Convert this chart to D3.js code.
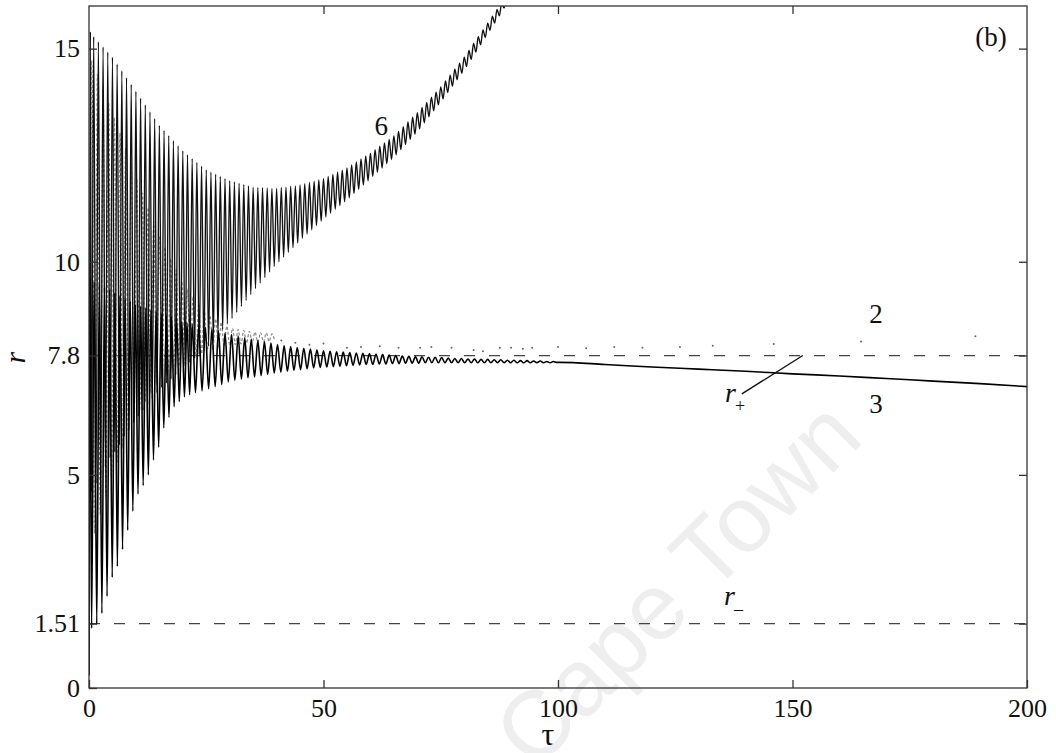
<!DOCTYPE html>
<html>
<head>
<meta charset="utf-8">
<script src="https://cdn.jsdelivr.net/npm/d3@7"></script>
<style>
  body { margin: 0; background: #fff; }
  svg text { font-family: "Liberation Serif", "DejaVu Serif", serif; fill: #111; }
</style>
</head>
<body>
<svg id="chart" width="1056" height="753"></svg>
<script>
// tick values and reference levels
const xTicks = [0, 50, 100, 150, 200];
const yTicks = [0, 1.51, 5, 7.8, 10, 15];
const yTickLabels = ["0", "1.51", "5", "7.8", "10", "15"];
const refLines = [7.8, 1.51];

// trajectory 6: extrema [tau, r]
const curve6 = [
  [0,0.3],[0.3,15.4],[0.5,4.6],[1,15.28],[1.5,4.8],[2,15.16],[2.5,5.0],[3,15.04],[3.5,5.2],[4,14.92],[4.5,5.4],[5,14.8],[5.5,5.54],[6,14.64],[6.5,5.7],[7,14.48],[7.5,5.9],[8,14.32],[8.5,6.06],[9,14.16],[9.5,6.22],[10,14.0],
  [10.5,6.37],[11,13.84],[11.5,6.51],[12,13.68],[12.5,6.65],[13,13.52],[13.5,6.79],[14,13.36],[14.5,6.93],[15,13.2],[15.5,7.05],[16,13.08],[16.5,7.15],[17,12.96],[17.5,7.25],[18,12.84],[18.5,7.35],[19,12.72],[19.5,7.45],[20,12.6],
  [20.5,7.55],[21,12.51],[21.5,7.64],[22,12.42],[22.5,7.73],[23,12.33],[23.5,7.82],[24,12.24],[24.5,7.91],[25,12.15],[25.5,8.02],[26,12.1],[26.5,8.15],[27,12.05],[27.5,8.28],[28,12.0],[28.5,8.41],[29,11.95],[29.5,8.54],[30,11.9],
  [30.5,8.67],[31,11.87],[31.5,8.81],[32,11.84],[32.5,8.95],[33,11.81],[33.5,9.09],[34,11.78],[34.5,9.23],[35,11.75],[35.5,9.37],[36,11.74],[36.5,9.5],[37,11.74],[37.5,9.63],[38,11.73],[38.5,9.76],[39,11.72],[39.5,9.89],[40,11.72],
  [40.5,10.0],[41,11.74],[41.5,10.11],[42,11.75],[42.5,10.22],[43,11.77],[43.5,10.33],[44,11.78],[44.5,10.44],[45,11.8],[45.5,10.55],[46,11.83],[46.5,10.65],[47,11.86],[47.5,10.75],[48,11.89],[48.5,10.85],[49,11.92],[49.5,10.95],[50,11.95],
  [50.5,11.05],[51,12.0],[51.5,11.14],[52,12.05],[52.5,11.23],[53,12.1],[53.5,11.32],[54,12.15],[54.5,11.41],[55,12.2],[55.5,11.5],[56,12.27],[56.5,11.6],[57,12.34],[57.5,11.7],[58,12.41],[58.5,11.8],[59,12.48],[59.5,11.9],[60,12.55],
  [60.5,12.0],[61,12.63],[61.5,12.1],[62,12.71],[62.5,12.2],[63,12.79],[63.5,12.3],[64,12.87],[64.5,12.4],[65,12.95],[65.5,12.51],[66,13.06],[66.5,12.63],[67,13.17],[67.5,12.75],[68,13.28],[68.5,12.87],[69,13.39],[69.5,12.99],[70,13.5],
  [70.5,13.12],[71,13.62],[71.5,13.26],[72,13.74],[72.5,13.4],[73,13.86],[73.5,13.54],[74,13.98],[74.5,13.68],[75,14.1],[75.5,13.82],[76,14.24],[76.5,13.97],[77,14.38],[77.5,14.12],[78,14.52],[78.5,14.27],[79,14.66],[79.5,14.42],[80,14.8],
  [80.5,14.58],[81,14.96],[81.5,14.75],[82,15.12],[82.5,14.92],[83,15.28],[83.5,15.09],[84,15.44],[84.5,15.26],[85,15.6],[85.5,15.43],[86,15.76],[86.5,15.6],[87,15.92],[87.5,15.77],[88,16.08],[88.5,15.95],[89,16.25]
];

// trajectory 3: extrema, then the smooth tail
const curve3 = [
  [0,0.3],[0.2,9.6],[0.55,1.4],[1.1,9.53],[1.65,1.5],[2.2,9.47],[2.75,1.75],[3.3,9.4],[3.85,2.15],[4.4,9.34],[4.95,2.6],[5.5,9.27],[6.05,2.85],[6.6,9.2],[7.15,3.25],[7.7,9.14],[8.25,3.7],[8.8,9.07],[9.35,4.15],[9.9,9.0],
  [10.45,4.55],[11.0,8.96],[11.55,4.75],[12.1,8.92],[12.65,5.0],[13.2,8.87],[13.75,5.35],[14.3,8.83],[14.85,5.65],[15.4,8.78],[15.95,6.1],[16.5,8.74],[17.05,6.35],[17.6,8.7],[18.15,6.6],[18.7,8.65],[19.25,6.72],[19.8,8.6],
  [20.35,6.83],[20.9,8.57],[21.45,6.88],[22.0,8.54],[22.7,6.93],[23.4,8.5],[24.1,6.97],[24.8,8.46],[25.5,7.02],[26.2,8.42],[26.9,7.07],[27.6,8.38],[28.3,7.12],[29.0,8.33],[29.7,7.18],[30.4,8.29],[31.1,7.22],[31.8,8.25],
  [32.5,7.25],[33.2,8.21],[33.9,7.28],[34.6,8.18],[35.3,7.3],[36.0,8.15],[36.7,7.33],[37.4,8.12],[38.1,7.36],[38.8,8.09],[39.5,7.39],[40.2,8.06],[40.9,7.41],[41.6,8.03],[42.3,7.43],[43.0,8.01],[43.7,7.45],[44.4,7.99],
  [45.1,7.47],[45.8,7.97],[46.5,7.49],[47.2,7.95],[47.9,7.51],[48.6,7.93],[49.3,7.52],[50.0,7.91],[50.7,7.53],[51.4,7.9],[52.1,7.54],[52.8,7.89],[53.5,7.55],[54.2,7.88],[54.9,7.56],[55.6,7.87],[56.3,7.57],[57.0,7.86],
  [57.7,7.58],[58.4,7.85],[59.1,7.59],[59.8,7.84],[60.5,7.59],[61.2,7.83],[61.9,7.6],[62.6,7.82],[63.3,7.6],[64.0,7.81],[64.7,7.61],[65.4,7.8],[66.1,7.61],[66.8,7.79],[67.5,7.62],[68.2,7.78],[68.9,7.62],[69.6,7.77],
  [70.3,7.62],[71.0,7.77],[71.7,7.63],[72.4,7.76],[73.1,7.63],[73.8,7.76],[74.5,7.63],[75.2,7.75],[75.9,7.63],[76.6,7.74],[77.3,7.63],[78.0,7.73],[78.7,7.63],[79.4,7.73],[80.1,7.63],[80.8,7.72],[81.5,7.63],[82.2,7.72],
  [82.9,7.63],[83.6,7.71],[84.3,7.63],[85.0,7.71],[85.7,7.63],[86.4,7.7],[87.1,7.63],[87.8,7.7],[88.5,7.63],[89.2,7.69],[89.9,7.63],[90.6,7.69],[91.3,7.63],[92.0,7.68],[92.7,7.63],[93.4,7.68],[94.1,7.63],[94.8,7.67],
  [95.5,7.63],[96.2,7.67],[96.9,7.63],[97.6,7.66],[98.3,7.63],[99.0,7.66],[99.7,7.64],
  [100.5,7.64],[110,7.59],[120,7.53],[130,7.48],[140,7.43],[150,7.37],[160,7.32],[170,7.26],[180,7.2],[190,7.14],[200,7.07]
];

// trajectory 2 (grey, dotted): early oscillation, then only scattered dots remain visible
const curve2 = [
  [0,3.0],[0.6,14.73],[1.2,3.63],[1.8,14.4],[2.4,4.06],[3.0,14.06],[3.6,4.5],[4.2,13.72],[4.8,4.93],[5.4,13.38],[6.0,5.28],[6.6,13.02],[7.2,5.62],[7.8,12.66],[8.4,5.95],[9.0,12.3],[9.6,6.29],[10.2,11.94],
  [10.8,6.53],[11.4,11.61],[12.0,6.72],[12.6,11.27],[13.2,6.91],[13.8,10.94],[14.4,7.1],[15.0,10.6],[15.6,7.25],[16.2,10.34],[16.8,7.34],[17.4,10.07],[18.0,7.44],[18.6,9.81],[19.2,7.54],[19.8,9.54],
  [20.4,7.62],[21.0,9.36],[21.6,7.7],[22.2,9.19],[22.8,7.77],[23.4,9.02],[24.0,7.84],[24.6,8.86],[25.2,7.91],[25.8,8.74],[26.4,7.94],[27.0,8.66],[27.6,7.98],[28.2,8.58],[28.8,8.01],[29.4,8.49],
  [30.0,8.05],[30.6,8.44],[31.2,8.06],[31.8,8.41],[32.4,8.07],[33.0,8.39],[33.6,8.09],[34.2,8.37],[34.8,8.1],[35.4,8.35],[36.0,8.11],[36.6,8.34],[37.2,8.12],[37.8,8.33],[38.4,8.13],[39.0,8.31],[39.6,8.14]
];
const curve2Dots = [
  [41,8.15],[44,8.1],[47,8.05],[50,8.08],[55,7.98],[58,8.0],[62,8.02],[66,7.98],[70.6,7.98],[73,8.0],[77.3,7.98],[82,7.93],[84,7.9],
  [87.6,7.98],[90,7.98],[92.5,7.96],[94.5,7.98],[100,8.0],[106,7.97],[112,8.0],[118,7.98],[126,8.0],[133,8.03],[146,8.07],[164.6,8.13],[189,8.25]
];

// text annotations in data units
const curveLabels = [
  { text: "6", tau: 62.3, r: 12.97 },
  { text: "2", tau: 167.8, r: 8.56 },
  { text: "3", tau: 167.8, r: 6.45 },
  { text: "(b)", tau: 192.3, r: 15.06 }
];
const rootLabels = [
  { sub: "+", tau: 135.6, r: 6.71 },
  { sub: "\u2013", tau: 135.4, r: 1.95 }
];
const leader = [[139.2, 6.9], [152.2, 7.8]];

const margin = { top: 6, right: 29, bottom: 65, left: 89 };
const width = 1056, height = 753;

const x = d3.scaleLinear().domain([0, 200]).range([margin.left, width - margin.right]);
const y = d3.scaleLinear().domain([0, 16]).range([height - margin.bottom, margin.top]);

const svg = d3.select("#chart");

svg.append("defs").append("clipPath").attr("id", "plotClip")
  .append("rect")
  .attr("x", x(0)).attr("y", y(16))
  .attr("width", x(200) - x(0)).attr("height", y(0) - y(16));

// faint watermark behind everything
svg.append("text")
  .attr("transform", "translate(700,606) rotate(-45)")
  .attr("text-anchor", "middle")
  .style("font-family", "'Liberation Sans', Arial, sans-serif")
  .style("font-size", "94px")
  .style("fill", "#eeeeee")
  .text("Cape Town");

const plot = svg.append("g").attr("clip-path", "url(#plotClip)");

// dashed r+ / r- levels
plot.selectAll("line.ref")
  .data(refLines)
  .enter()
  .append("line")
  .attr("class", "ref")
  .attr("x1", x(0)).attr("x2", x(200))
  .attr("y1", d => y(d)).attr("y2", d => y(d))
  .attr("stroke", "#444")
  .attr("stroke-width", 1.2)
  .attr("stroke-dasharray", "11,14");

const line = d3.line()
  .x(d => x(d[0]))
  .y(d => y(d[1]))
  .curve(d3.curveMonotoneX);

plot.append("path")
  .datum(curve2)
  .attr("d", line)
  .attr("fill", "none")
  .attr("stroke", "#8a8a8a")
  .attr("stroke-width", 1.2)
  .attr("stroke-dasharray", "3,2");

plot.selectAll("circle.dot2")
  .data(curve2Dots)
  .enter()
  .append("circle")
  .attr("class", "dot2")
  .attr("cx", d => x(d[0]))
  .attr("cy", d => y(d[1]))
  .attr("r", 1)
  .attr("fill", "#666");

plot.append("path")
  .datum(curve6)
  .attr("d", line)
  .attr("fill", "none")
  .attr("stroke", "#111")
  .attr("stroke-width", 1.35);

plot.append("path")
  .datum(curve3)
  .attr("d", line)
  .attr("fill", "none")
  .attr("stroke", "#000")
  .attr("stroke-width", 1.6);

// frame
svg.append("rect")
  .attr("x", x(0)).attr("y", y(16))
  .attr("width", x(200) - x(0)).attr("height", y(0) - y(16))
  .attr("fill", "none")
  .attr("stroke", "#333")
  .attr("stroke-width", 1.3);

//axes with inward ticks
const xAxis = g => {
  g.attr("transform", `translate(0, ${y(0)})`)
    .call(d3.axisBottom(x).tickValues(xTicks).tickSize(-8).tickPadding(11).tickFormat(d3.format("d")));
  g.select(".domain").remove();
  return g;
};
const yAxis = g => {
  g.attr("transform", `translate(${x(0)}, 0)`)
    .call(d3.axisLeft(y).tickValues(yTicks).tickSize(-8).tickPadding(9).tickFormat((d, i) => yTickLabels[i]));
  g.select(".domain").remove();
  return g;
};
const yAxisRight = g => {
  g.attr("transform", `translate(${x(200)}, 0)`)
    .call(d3.axisRight(y).tickValues(yTicks.filter(d => d > 0)).tickSize(-8).tickFormat(""));
  g.select(".domain").remove();
  return g;
};
const xAxisTop = g => {
  g.attr("transform", `translate(0, ${y(16)})`)
    .call(d3.axisTop(x).tickValues(xTicks.slice(1, -1)).tickSize(-8).tickFormat(""));
  g.select(".domain").remove();
  return g;
};

svg.append("g").call(xAxis);
svg.append("g").call(yAxis);
svg.append("g").call(yAxisRight);
svg.append("g").call(xAxisTop);

svg.selectAll(".tick line").attr("stroke", "#333").attr("stroke-width", 1.3);
svg.selectAll(".tick text")
  .style("font-family", "'Liberation Serif', serif")
  .style("font-size", "26px")
  .style("fill", "#111");

// axis titles
svg.append("text")
  .attr("transform", `translate(25, ${y(7.75)}) rotate(-90)`)
  .attr("text-anchor", "middle")
  .style("font-size", "30px")
  .style("font-style", "italic")
  .text("r");

svg.append("text")
  .attr("x", x(100) - 10)
  .attr("y", 745)
  .attr("text-anchor", "middle")
  .style("font-size", "32px")
  .text("\u03c4");

// curve labels
svg.selectAll("text.curveLabel")
  .data(curveLabels)
  .enter()
  .append("text")
  .attr("class", "curveLabel")
  .attr("x", d => x(d.tau))
  .attr("y", d => y(d.r))
  .attr("text-anchor", "middle")
  .style("font-size", "27px")
  .text(d => d.text);

const roots = svg.selectAll("g.root")
  .data(rootLabels)
  .enter()
  .append("g")
  .attr("class", "root")
  .attr("transform", d => `translate(${x(d.tau)}, ${y(d.r)})`);
roots.append("text")
  .style("font-size", "28px")
  .style("font-style", "italic")
  .text("r");
roots.append("text")
  .attr("x", 10)
  .attr("y", 10)
  .style("font-size", "18px")
  .text(d => d.sub);

svg.append("path")
  .datum(leader)
  .attr("d", d3.line().x(d => x(d[0])).y(d => y(d[1])))
  .attr("stroke", "#111")
  .attr("stroke-width", 1.4)
  .attr("fill", "none");
</script>
</body>
</html>
